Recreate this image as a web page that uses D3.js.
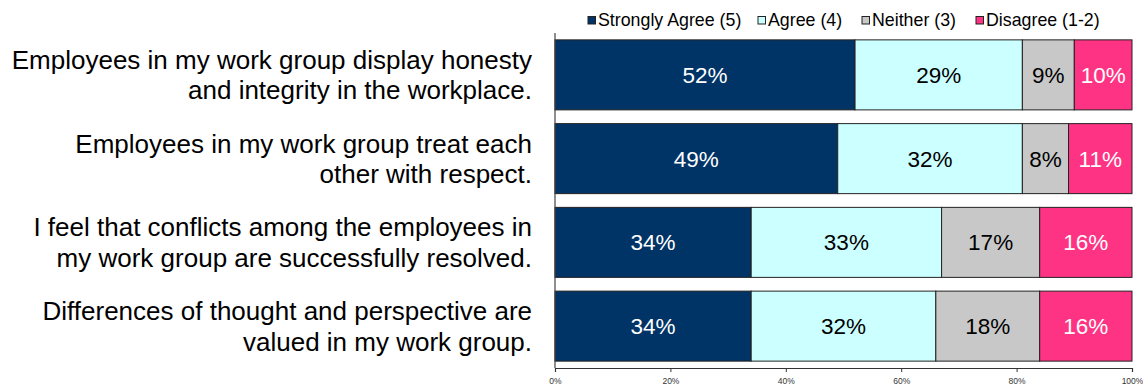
<!DOCTYPE html>
<html>
<head>
<meta charset="utf-8">
<script src="https://cdn.jsdelivr.net/npm/d3@7"></script>
<style>
  html, body { margin: 0; padding: 0; background: #ffffff; }
  svg { display: block; font-family: "Liberation Sans", Arial, sans-serif; }
</style>
</head>
<body>
<svg id="chart" width="1143" height="385"></svg>
<script>
// Survey statements (each split over two lines)
const categories = [
  "Employees in my work group display honesty\nand integrity in the workplace.",
  "Employees in my work group treat each\nother with respect.",
  "I feel that conflicts among the employees in\nmy work group are successfully resolved.",
  "Differences of thought and perspective are\nvalued in my work group."
];

// Response shares, percent
const seriesNames = ["Strongly Agree (5)", "Agree (4)", "Neither (3)", "Disagree (1-2)"];
const stronglyAgree = [52, 49, 34, 34];
const agree        = [29, 32, 33, 32];
const neither      = [9, 8, 17, 18];
const disagree     = [10, 11, 16, 16];

const tickValues = [0, 20, 40, 60, 80, 100];

const colors = ["#003366", "#ccffff", "#c8c8c8", "#ff3383"];
const textColors = ["#ffffff", "#000000", "#000000", "#ffffff"];

const rows = categories.map((c, i) => ({
  category: c,
  s0: stronglyAgree[i], s1: agree[i], s2: neither[i], s3: disagree[i]
}));
const keys = ["s0", "s1", "s2", "s3"];

const svg = d3.select("#chart");
const plot = { left: 555, right: 1132, top: 33, bottom: 368 };

const x = d3.scaleLinear().domain([0, 100]).range([plot.left, plot.right]);
const y = d3.scaleBand().domain(categories).range([plot.top, plot.bottom])
  .paddingInner(0.164).paddingOuter(0.082);

const stacked = d3.stack().keys(keys)(rows);

// Stacked bars
const layers = svg.append("g").selectAll("g").data(stacked).join("g")
  .attr("fill", (d, i) => colors[i]);

layers.selectAll("rect").data(d => d).join("rect")
  .attr("x", d => x(d[0]))
  .attr("y", d => y(d.data.category))
  .attr("width", d => x(d[1]) - x(d[0]))
  .attr("height", y.bandwidth())
  .attr("stroke", "#222")
  .attr("stroke-width", 1);

// Value labels inside segments
layers.each(function (layer, li) {
  d3.select(this).selectAll("text").data(layer).join("text")
    .attr("x", d => (x(d[0]) + x(d[1])) / 2)
    .attr("y", d => y(d.data.category) + y.bandwidth() / 2 + 8)
    .attr("text-anchor", "middle")
    .attr("font-size", "22.5px")
    .attr("fill", textColors[li])
    .text(d => (d[1] - d[0]) + "%");
});

// Left axis line
svg.append("line")
  .attr("x1", plot.left).attr("x2", plot.left)
  .attr("y1", plot.top).attr("y2", plot.bottom)
  .attr("stroke", "#444").attr("stroke-width", 1.2);

// Bottom axis
const xAxis = d3.axisBottom(x).tickValues(tickValues)
  .tickFormat(d => d + "%").tickSize(4).tickPadding(6);
const gx = svg.append("g").attr("transform", `translate(0,${plot.bottom})`).call(xAxis);
gx.select(".domain").attr("stroke", "#333").attr("stroke-width", 1.2);
gx.selectAll(".tick line").attr("stroke", "#333");
gx.selectAll(".tick text").attr("font-size", "8.5px").attr("fill", "#333")
  .attr("font-family", "Liberation Sans, Arial, sans-serif");

// Category labels on the left
const labelG = svg.append("g");
categories.forEach(c => {
  const lines = c.split("\n");
  const cy = y(c) + y.bandwidth() / 2;
  const t = labelG.append("text")
    .attr("text-anchor", "end")
    .attr("font-size", "26px")
    .attr("fill", "#000");
  lines.forEach((ln, k) => {
    t.append("tspan")
      .attr("x", 532)
      .attr("y", cy - 6 + k * 30.5)
      .text(ln);
  });
});

// Legend
const legendX = [588, 758, 862, 976];
const legend = svg.append("g");
seriesNames.forEach((name, i) => {
  legend.append("rect")
    .attr("x", legendX[i]).attr("y", 16.5)
    .attr("width", 7.5).attr("height", 7.5)
    .attr("fill", colors[i]).attr("stroke", "#222").attr("stroke-width", 1);
  legend.append("text")
    .attr("x", legendX[i] + 10).attr("y", 25.7)
    .attr("font-size", "17.8px").attr("fill", "#000")
    .text(name);
});
</script>
</body>
</html>
